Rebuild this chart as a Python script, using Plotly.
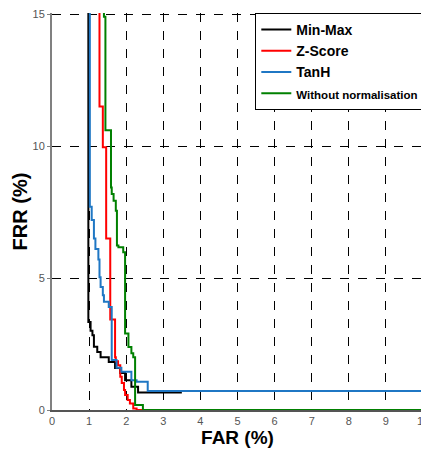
import plotly.graph_objects as go

# Data (FAR %, FRR %), step curves
minmax_far = [0.98, 1.04, 1.09, 1.13, 1.22, 1.31, 1.53, 1.70, 1.84, 1.97, 2.14, 2.32, 3.50]
minmax_frr = [16.0, 3.33, 3.00, 2.83, 2.40, 2.20, 2.00, 1.82, 1.59, 1.40, 1.13, 0.88, 0.66]

zscore_far = [1.28, 1.37, 1.46, 1.57, 1.70, 1.72, 1.78, 1.84, 1.88, 1.94, 1.97, 2.04, 2.10, 2.19, 2.28, 10.0]
zscore_frr = [16.0, 11.5, 9.95, 6.50, 3.43, 2.00, 1.85, 1.70, 1.26, 1.02, 0.76, 0.57, 0.38, 0.25, 0.06, 0.0]

tanh_far = [1.02, 1.07, 1.13, 1.17, 1.25, 1.28, 1.31, 1.37, 1.40, 1.53, 1.61, 1.74, 1.87, 2.14, 2.28, 2.58, 10.0]
tanh_frr = [16.0, 7.70, 7.20, 6.50, 6.10, 5.70, 5.03, 4.66, 4.35, 4.10, 3.90, 1.89, 1.60, 1.45, 1.13, 1.07, 0.72]

nonorm_far = [1.40, 1.44, 1.59, 1.61, 1.66, 1.72, 1.75, 1.79, 1.92, 1.97, 2.06, 2.14, 2.19, 2.24, 2.45, 10.0]
nonorm_frr = [16.0, 14.9, 10.6, 8.43, 8.18, 7.93, 7.55, 6.23, 6.17, 5.98, 2.90, 2.39, 2.15, 2.00, 0.19, 0.0]

x_ticks = [0, 1, 2, 3, 4, 5, 6, 7, 8, 9, 10]
y_ticks = [0, 5, 10, 15]

series = [
    ("Min-Max", minmax_far, minmax_frr, "#000000"),
    ("Z-Score", zscore_far, zscore_frr, "#FF0000"),
    ("TanH", tanh_far, tanh_frr, "#1F77C4"),
    ("<span style='font-size:11.5px'>Without normalisation</span>", nonorm_far, nonorm_frr, "#008000"),
]

FONT = "Arial, 'Liberation Sans', sans-serif"

fig = go.Figure()
for name, xs, ys, col in series:
    fig.add_trace(go.Scatter(x=xs, y=ys, mode="lines", name=name,
                             line=dict(color=col, width=2, shape="vh")))

fig.update_layout(
    width=421, height=445,
    margin=dict(l=44, r=0, t=5, b=43),
    paper_bgcolor="white", plot_bgcolor="white",
    font=dict(family=FONT, color="#444444", size=11),
    showlegend=True,
    legend=dict(x=0.548, y=1.0, xanchor="left", yanchor="top",
                bgcolor="white", bordercolor="black", borderwidth=1,
                font=dict(family=FONT, size=14, color="black", weight="bold"),
                tracegroupgap=0, itemwidth=30),
    xaxis=dict(range=[0, 10], tickvals=x_ticks, ticktext=[str(v) for v in x_ticks],
               showgrid=True, gridcolor="black", griddash="dash", gridwidth=1,
               zeroline=False, showline=True, linecolor="#555555", linewidth=2,
               ticks="", tickfont=dict(size=11, color="#555555"),
               ticklabeloverflow="allow",
               title=dict(text="<b>FAR (%)</b>", font=dict(size=19, color="black"), standoff=4)),
    yaxis=dict(range=[0, 15.04], tickvals=y_ticks, ticktext=[str(v) for v in y_ticks],
               showgrid=True, gridcolor="black", griddash="dash", gridwidth=1,
               zeroline=False, showline=True, linecolor="#808080", linewidth=2,
               ticks="outside", ticklen=3, tickcolor="#808080",
               tickfont=dict(size=11, color="#555555"),
               ticklabeloverflow="allow",
               title=dict(text="<b>FRR (%)</b>", font=dict(size=20, color="black"), standoff=0)),
)

fig.write_html("out.html")
